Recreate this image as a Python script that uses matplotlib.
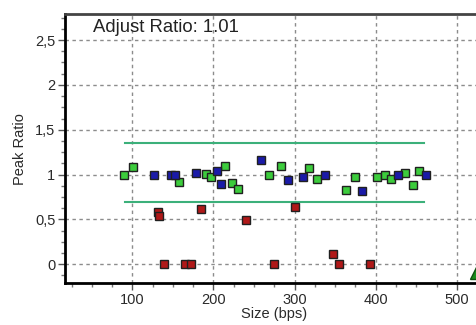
import matplotlib
matplotlib.use("Agg")
import matplotlib.pyplot as plt
from matplotlib.ticker import MultipleLocator, FuncFormatter

# Peak ratio vs fragment size, three classes of peaks
green_size = [90, 101, 158, 191, 196.5, 214, 223, 230, 268, 283.5, 318, 328,
              363, 374, 401, 411, 418.5, 436, 446, 453]
green_ratio = [1.0, 1.09, 0.92, 1.01, 0.97, 1.10, 0.91, 0.84, 0.99, 1.10, 1.07, 0.95,
               0.83, 0.97, 0.97, 0.99, 0.95, 1.02, 0.88, 1.04]
blue_size = [127, 148, 153, 178, 204, 209, 259, 292, 310, 337.6, 383.6, 427.5, 462]
blue_ratio = [1.0, 0.99, 0.99, 1.02, 1.04, 0.89, 1.16, 0.94, 0.97, 1.0, 0.82, 0.99, 0.99]
red_size = [132, 133, 184.6, 239.6, 300, 347.5, 139.5, 164.5, 172, 274, 354.5, 392.6]
red_ratio = [0.58, 0.54, 0.62, 0.49, 0.64, 0.11, 0.0, 0.0, 0.0, 0.0, 0.0, 0.0]

limit_start, limit_end = 91, 460
upper_limit, lower_limit = 1.35, 0.69
marker_size, marker_ratio = 526, -0.07
adjust_ratio = 1.01

fig = plt.figure(figsize=(4.77, 3.25), dpi=100)
ax = fig.add_axes([0.1363, 0.129, 0.876, 0.8277])
ax.set_xlim(17, 532)
ax.set_ylim(-0.21, 2.79)

ax.grid(True, which="major", color="#8c8c8c", linestyle=(0, (2.5, 2.5)), linewidth=1)
ax.set_axisbelow(True)

ax.plot([limit_start, limit_end], [upper_limit, upper_limit], color="#3cb07a", lw=1.5)
ax.plot([limit_start, limit_end], [lower_limit, lower_limit], color="#3cb07a", lw=1.5)

common = dict(linestyle="none", marker="s", markersize=5.2, markeredgecolor="#202020",
              markeredgewidth=1.0)
ax.plot(green_size, green_ratio, markerfacecolor="#3ccc3c", **common)
ax.plot(blue_size, blue_ratio, markerfacecolor="#1a1aa8", **common)
ax.plot(red_size, red_ratio, markerfacecolor="#b01818", **common)

ax.plot([marker_size], [marker_ratio], marker="^", markersize=11, color="#1c8c1c",
        markeredgecolor="#105010", clip_on=False, linestyle="none")

ax.text(52, 2.645, f"Adjust Ratio: {adjust_ratio:.2f}", fontsize=13.3,
        family="Liberation Sans", va="center", ha="left", color="#222222")

ax.xaxis.set_major_locator(MultipleLocator(100))
ax.xaxis.set_minor_locator(MultipleLocator(25))
ax.yaxis.set_major_locator(MultipleLocator(0.5))
ax.yaxis.set_minor_locator(MultipleLocator(0.125))
comma = FuncFormatter(lambda v, p: f"{v:g}".replace(".", ","))
ax.yaxis.set_major_formatter(comma)

ax.tick_params(which="major", length=5, width=1, color="#555555",
               labelsize=10.5, labelcolor="#2a2a2a", pad=2)
ax.tick_params(which="minor", length=3, width=1, color="#777777")
for lab in ax.get_xticklabels() + ax.get_yticklabels():
    lab.set_family("Liberation Sans")

ax.spines["right"].set_visible(False)
ax.spines["left"].set_linewidth(2)
ax.spines["bottom"].set_linewidth(2)
ax.spines["top"].set_linewidth(2)
ax.spines["top"].set_color("#444444")

ax.set_xlabel("Size (bps)", fontsize=10.5, family="Liberation Sans", color="#2a2a2a", labelpad=0)
ax.set_ylabel("Peak Ratio", fontsize=10.5, family="Liberation Sans", color="#2a2a2a", labelpad=6)

fig.savefig("out.png", dpi=100)
